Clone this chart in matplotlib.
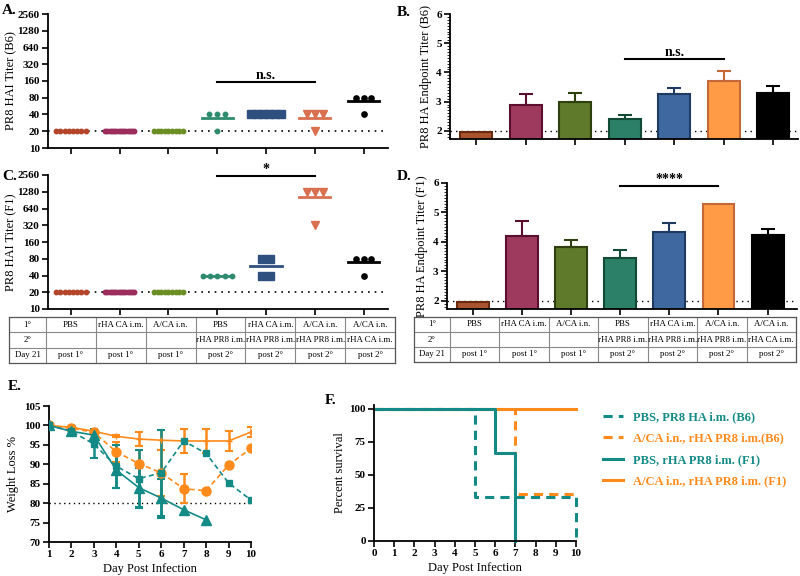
import numpy as np
import matplotlib.pyplot as plt
from matplotlib.ticker import MultipleLocator, NullFormatter

plt.rcParams['font.family'] = ['Liberation Serif', 'DejaVu Serif']
plt.rcParams['font.weight'] = 'bold'
plt.rcParams['axes.linewidth'] = 1.3

# ---- data ----
groups = ['PBS', 'rHA CA i.m.', 'A/CA i.n.', 'PBS / rHA PR8', 'rHA CA / rHA PR8', 'A/CA / rHA PR8', 'A/CA / rHA CA']
scatter_colors = ['#b5452a', '#9b2d5d', '#6b8e23', '#2e8b6e', '#2f4f7f', '#d9704f', '#000000']
scatter_markers = ['o', 'o', 'o', 'o', 's', 'v', 'o']
bar_colors = ['#a9532f', '#9e3a5e', '#5f7a2b', '#2d8068', '#3f68a0', '#ff9a47', '#000000']
bar_edges = ['#6b2a10', '#5a0f30', '#2e4010', '#114a35', '#1f3a60', '#c4683a', '#000000']

hai_b6 = [[20] * 8, [20] * 14, [20] * 9, [40, 40, 40, 20], [40] * 6, [40, 40, 40, 20], [80, 80, 80, 40]]
hai_f1 = [[20] * 8, [20] * 14, [20] * 9, [40] * 5, [80, 80, 40, 40], [1280, 1280, 1280, 320], [80, 80, 80, 40]]
hai_ticks = [10, 20, 40, 80, 160, 320, 640, 1280, 2560]

endpoint_b6 = [1.97, 2.87, 3.0, 2.4, 3.25, 3.7, 3.3]
endpoint_b6_err = [0.0, 0.4, 0.3, 0.15, 0.2, 0.35, 0.25]
endpoint_f1 = [1.97, 4.2, 3.82, 3.45, 4.35, 5.3, 4.25]
endpoint_f1_err = [0.0, 0.52, 0.26, 0.28, 0.3, 0.0, 0.2]

table_rows = [
    ['1°', 'PBS', 'rHA CA i.m.', 'A/CA i.n.', 'PBS', 'rHA CA i.m.', 'A/CA i.n.', 'A/CA i.n.'],
    ['2°', '', '', '', 'rHA PR8 i.m.', 'rHA PR8 i.m.', 'rHA PR8 i.m.', 'rHA CA i.m.'],
    ['Day 21', 'post 1°', 'post 1°', 'post 1°', 'post 2°', 'post 2°', 'post 2°', 'post 2°'],
]

days = [1, 2, 3, 4, 5, 6, 7, 8, 9, 10]
w_pbs_b6 = [100, 98.5, 95.2, 89.5, 86.3, 87.8, 96.0, 92.8, 85.2, 80.8]
w_pbs_b6_err = [0, 0, 3.5, 5.5, 7.5, 11.0, 0, 0, 0, 0]
w_aca_b6 = [100, 99.3, 98.2, 93.2, 90.2, 87.8, 83.7, 83.2, 89.8, 94.1]
w_aca_b6_err = [0, 0, 0, 2.5, 3.5, 6.0, 3.7, 0, 0, 0]
w_pbs_f1 = [100, 98.5, 97.5, 88.5, 84.0, 81.3, 78.3, 75.7]
w_pbs_f1_err = [0, 0, 1.5, 4.5, 5.0, 5.0, 0, 0]
w_aca_f1 = [100, 99.5, 98.5, 97.2, 96.5, 96.2, 96.0, 96.0, 96.0, 98.3]
w_aca_f1_err = [0, 0, 0, 0.3, 1.7, 2.5, 3.0, 3.0, 2.5, 1.3]

surv_labels = ['PBS, PR8 HA i.m. (B6)', 'A/CA i.n., rHA PR8 i.m.(B6)', 'PBS, rHA PR8 i.m. (F1)', 'A/CA i.n., rHA PR8 i.m. (F1)']
surv_days = [[0, 5, 10], [0, 7, 10], [0, 6, 7], [0, 10]]
surv_pct = [[100, 33.3, 0], [100, 35.5, 35.5], [100, 66.7, 0], [100, 100]]

teal = '#138a86'
orange = '#ff8a1c'

fig = plt.figure(figsize=(8, 5.76), dpi=100)


def px(l, t, r, b):
    return [l / 800, 1 - b / 576, (r - l) / 800, (b - t) / 576]


def style(ax):
    ax.spines['top'].set_visible(False)
    ax.spines['right'].set_visible(False)
    ax.tick_params(labelsize=8, width=1.2, length=4, pad=2)


def hai_panel(ax, data, ylabel):
    style(ax)
    ax.set_yscale('log', base=2)
    ax.set_ylim(10, 2560)
    ax.set_xlim(-0.47, 6.5)
    ax.set_yticks(hai_ticks)
    ax.set_yticklabels([str(v) for v in hai_ticks])
    ax.yaxis.set_minor_formatter(NullFormatter())
    ax.set_xticks(range(7))
    ax.set_xticklabels([])
    ax.axhline(20, color='black', ls=(0, (1, 3)), lw=1.2, zorder=1)
    for i, vals in enumerate(data):
        for v in sorted(set(vals)):
            n = vals.count(v)
            s = min(0.16, 0.6 / (n - 1)) if n > 1 else 0
            xs = i + (np.arange(n) - (n - 1) / 2) * s
            ms = {'o': 3.2, 's': 5.5, 'v': 6}[scatter_markers[i]]
            if i == 6:
                ms = 3.8
            ax.plot(xs, [v] * n, ls='none', marker=scatter_markers[i], ms=ms,
                    color=scatter_colors[i], zorder=3)
        m = np.mean(vals)
        ax.plot([i - 0.32, i + 0.32], [m, m], color=scatter_colors[i], lw=2, zorder=2)
    ax.set_ylabel(ylabel, fontsize=9)
    ax.yaxis.set_label_coords(-0.091, 0.5)


def bar_panel(ax, vals, errs, ylabel):
    style(ax)
    x = np.arange(len(vals))
    ax.bar(x, vals, width=0.65, color=bar_colors, edgecolor=bar_edges, linewidth=1.5, zorder=2)
    for i in range(len(vals)):
        if errs[i] > 0:
            ax.errorbar(x[i], vals[i], yerr=[[0], [errs[i]]], color=bar_edges[i],
                        capsize=5, elinewidth=1.5, capthick=1.5, zorder=3)
    ax.axhline(2, color='black', ls=(0, (1, 3)), lw=1, zorder=1)
    ax.set_ylim(1.72, 6)
    ax.set_yticks([2, 3, 4, 5, 6])
    ax.yaxis.set_minor_locator(MultipleLocator(0.1))
    ax.tick_params(axis='y', which='minor', length=2)
    ax.set_xticks(x)
    ax.set_xticklabels([])
    ax.set_ylabel(ylabel, fontsize=9)
    ax.yaxis.set_label_coords(-0.053, 0.5)


def sig(ax, y, text, x0=3, x1=5):
    ax.plot([x0, x1], [y, y], color='black', lw=1.5, clip_on=False)
    ax.text((x0 + x1) / 2, y, text, ha='center', va='bottom', fontsize=10, clip_on=False)


def table(rect, first_frac):
    ax = fig.add_axes(rect)
    ax.set_xlim(0, 1)
    ax.set_ylim(0, 3)
    ax.set_xticks([])
    ax.set_yticks([])
    for sp in ax.spines.values():
        sp.set_color('#555555')
        sp.set_linewidth(0.9)
    edges = [0, first_frac] + list(first_frac + (1 - first_frac) * np.arange(1, 8) / 7)
    for e in edges[1:-1]:
        ax.axvline(e, color='#888888', lw=0.8)
    for r in (1, 2):
        ax.axhline(r, color='#888888', lw=0.8)
    for r, row in enumerate(table_rows):
        for c, txt in enumerate(row):
            ax.text((edges[c] + edges[c + 1]) / 2, 2.5 - r, txt, ha='center', va='center',
                    fontsize=6.4, fontweight='normal')


# A
axA = fig.add_axes(px(48, 14, 388, 148))
hai_panel(axA, hai_b6, 'PR8 HAI Titer (B6)')
sig(axA, 155, 'n.s.')
# C
axC = fig.add_axes(px(48, 175, 388, 309))
hai_panel(axC, hai_f1, 'PR8 HAI Titer (F1)')
sig(axC, 2450, '*')
table(px(9, 317, 395, 363), 37 / 386)

# B
axB = fig.add_axes(px(450, 14, 798, 139))
bar_panel(axB, endpoint_b6, endpoint_b6_err, 'PR8 HA Endpoint Titer (B6)')
axB.set_xlim(-0.53, 6.5)
sig(axB, 4.45, 'n.s.')
# D
axD = fig.add_axes(px(447, 183, 797, 309))
bar_panel(axD, endpoint_f1, endpoint_f1_err, 'PR8 HA Endpoint Titer (F1)')
axD.set_xlim(-0.53, 6.6)
sig(axD, 5.9, '****')
table(px(414, 317, 796, 362), 36 / 382)

# E
axE = fig.add_axes(px(49, 406, 251, 542))
style(axE)


def wline(x, y, err, marker, ms, ls, color, lw=1.2):
    x = np.array(x[:len(y)])
    y = np.array(y)
    err = np.array(err)
    axE.plot(x, y, ls=ls, marker=marker, ms=ms, color=color, lw=lw, zorder=3)
    k = err > 0
    axE.errorbar(x[k], y[k], yerr=err[k], fmt='none', ecolor=color, elinewidth=1.8,
                 capsize=3, capthick=1.5, zorder=2)


wline(days, w_aca_f1, w_aca_f1_err, '+', 4, '-', orange)
wline(days, w_aca_b6, w_aca_b6_err, 'o', 6.5, (0, (3, 2)), orange)
wline(days, w_pbs_b6, w_pbs_b6_err, 's', 4.5, (0, (3, 2)), teal)
wline(days, w_pbs_f1, w_pbs_f1_err, '^', 6.5, '-', teal)
axE.axhline(80, color='black', ls=(0, (1, 2.5)), lw=1, zorder=1)
axE.set_xlim(1, 10)
axE.set_ylim(70, 105)
axE.set_xticks(days)
axE.set_yticks(range(70, 106, 5))
axE.set_xlabel('Day Post Infection', fontsize=9)
axE.set_ylabel('Weight Loss %', fontsize=9)
axE.xaxis.set_label_coords(0.5, -0.155)
axE.yaxis.set_label_coords(-0.149, 0.5)

# F
axF = fig.add_axes(px(374, 405, 576, 541))
style(axF)
surv_colors = [teal, orange, teal, orange]
surv_styles = [(0, (3, 2)), (0, (3, 2)), '-', '-']
order = [3, 1, 0, 2]
handles = [None] * 4
for i in order:
    h, = axF.plot(surv_days[i], surv_pct[i], drawstyle='steps-post', color=surv_colors[i],
                  ls=surv_styles[i], lw=2.2, clip_on=False, label=surv_labels[i])
    handles[i] = h
axF.set_xlim(0, 10)
axF.set_ylim(0, 103)
axF.set_xticks(range(11))
axF.set_yticks([0, 25, 50, 75, 100])
axF.set_xlabel('Day Post Infection', fontsize=9)
axF.set_ylabel('Percent survival', fontsize=9)
axF.xaxis.set_label_coords(0.5, -0.155)
axF.yaxis.set_label_coords(-0.139, 0.5)
leg = fig.legend(handles, surv_labels, loc='upper left', bbox_to_anchor=(592 / 800, 1 - 400 / 576),
                 frameon=False, fontsize=9, handlelength=1.6, labelspacing=0.75, handletextpad=0.8)
for t, c in zip(leg.get_texts(), surv_colors):
    t.set_color(c)

# panel letters
for lab, x, y in [('A.', 2, 10), ('B.', 397, 12), ('C.', 2, 176), ('D.', 397, 176), ('E.', 8, 386), ('F.', 325, 400)]:
    fig.text(x / 800, 1 - y / 576, lab, fontsize=11, va='center', ha='left')

fig.savefig('out.png', dpi=100)
